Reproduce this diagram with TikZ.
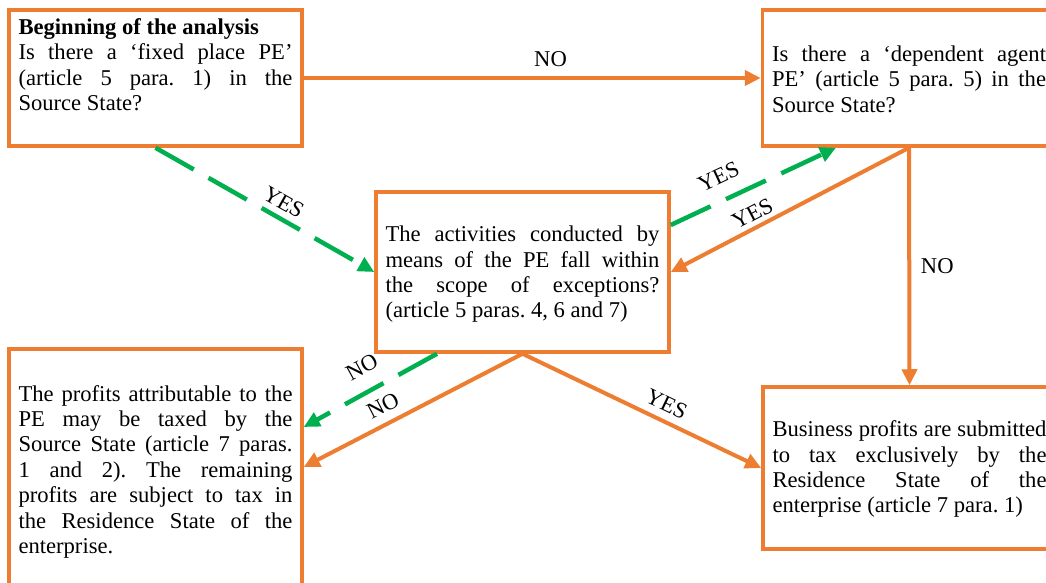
\documentclass[tikz,border=0pt]{standalone}
\usepackage{fontspec}
\setmainfont{Liberation Serif}
\usetikzlibrary{arrows.meta}

\definecolor{boxorange}{HTML}{ED7D31}
\definecolor{yesgreen}{HTML}{00B050}

\frenchspacing

% top-aligned, justified box text; #1 = box height, #2 = depth of first baseline
\newcommand{\boxpar}[3]{\parbox[c][#1][t]{274pt}{\rule{0pt}{#2}#3}}

\tikzset{
  txtfont/.style={font=\fontsize{22.6pt}{25.4pt}\selectfont},
  stepbox/.style={draw=boxorange, line width=3.5pt, rectangle, inner sep=0pt,
    minimum width=293pt, txtfont, text=black},
  lbl/.style={txtfont, inner sep=0pt, text=black},
  oarrow/.style={draw=boxorange, line width=4pt,
    -{Triangle[length=16pt,width=15pt]}},
  garrow/.style={draw=yesgreen, line width=4.5pt, dash pattern=on 44pt off 17pt,
    -{Triangle[length=16pt,width=15pt]}},
}

\begin{document}
\begin{tikzpicture}[x=1pt, y=1pt]
  \useasboundingbox (0,0) rectangle (1046,-583);
  \clip (0,0) rectangle (1046,-583);
  \fill[white] (0,0) rectangle (1046,-583);

  % decision and result boxes
  \node[stepbox, minimum height=136pt] (A) at (155.5,-78)
    {\boxpar{136pt}{24.5pt}{\textbf{Beginning of the analysis}\\
     Is there a ‘fixed place PE’\linebreak (article 5 para. 1) in the\linebreak Source State?}};
  \node[stepbox, minimum height=136pt] (B) at (909,-78)
    {\boxpar{136pt}{51.5pt}{Is there a ‘dependent agent\linebreak PE’ (article 5 para. 5) in the\linebreak Source State?}};
  \node[stepbox, minimum height=160pt] (C) at (522.5,-272)
    {\boxpar{160pt}{49.7pt}{The activities conducted by\linebreak means of the PE fall within\linebreak the scope of exceptions?\linebreak (article 5 paras. 4, 6 and 7)}};
  \node[stepbox, minimum height=236pt] (D) at (155.5,-467)
    {\boxpar{236pt}{52pt}{The profits attributable to the\linebreak PE may be taxed by the\linebreak Source State (article 7 paras.\linebreak 1 and 2). The remaining\linebreak profits are subject to tax in\linebreak the Residence State of the\linebreak enterprise.}};
  \node[stepbox, minimum height=162pt] (E) at (909.5,-468)
    {\boxpar{162pt}{49.7pt}{Business profits are submitted\linebreak to tax exclusively by the\linebreak Residence State of the\linebreak enterprise (article 7 para. 1)}};

  % connectors
  \draw[oarrow] (A.east) -- node[lbl, pos=0.54, above=9pt] {NO} (B.west);
  \draw[garrow] (A.south) -- node[lbl, pos=0.55, sloped, above=6.2pt] {YES} (C.west);
  \draw[garrow] ([yshift=47pt]C.east) -- node[lbl, pos=0.35, sloped, above=13.6pt] {YES} ([xshift=-73pt]B.south);
  \draw[oarrow] (B.south) -- node[lbl, pos=0.63, sloped, above=4.5pt] {YES} (C.east);
  \draw[oarrow] (B.south) -- node[lbl, pos=0.5, right=9.7pt] {NO} (E.north);
  \draw[garrow] ([xshift=-85.5pt]C.south) -- node[lbl, pos=0.475, sloped, above=14.9pt] {NO} ([yshift=40pt]D.east);
  \draw[oarrow] (C.south) -- node[lbl, pos=0.6, sloped, above=8.3pt] {NO} (D.east);
  \draw[oarrow] (C.south) -- node[lbl, pos=0.573, sloped, above=7.3pt] {YES} (E.west);
\end{tikzpicture}
\end{document}
